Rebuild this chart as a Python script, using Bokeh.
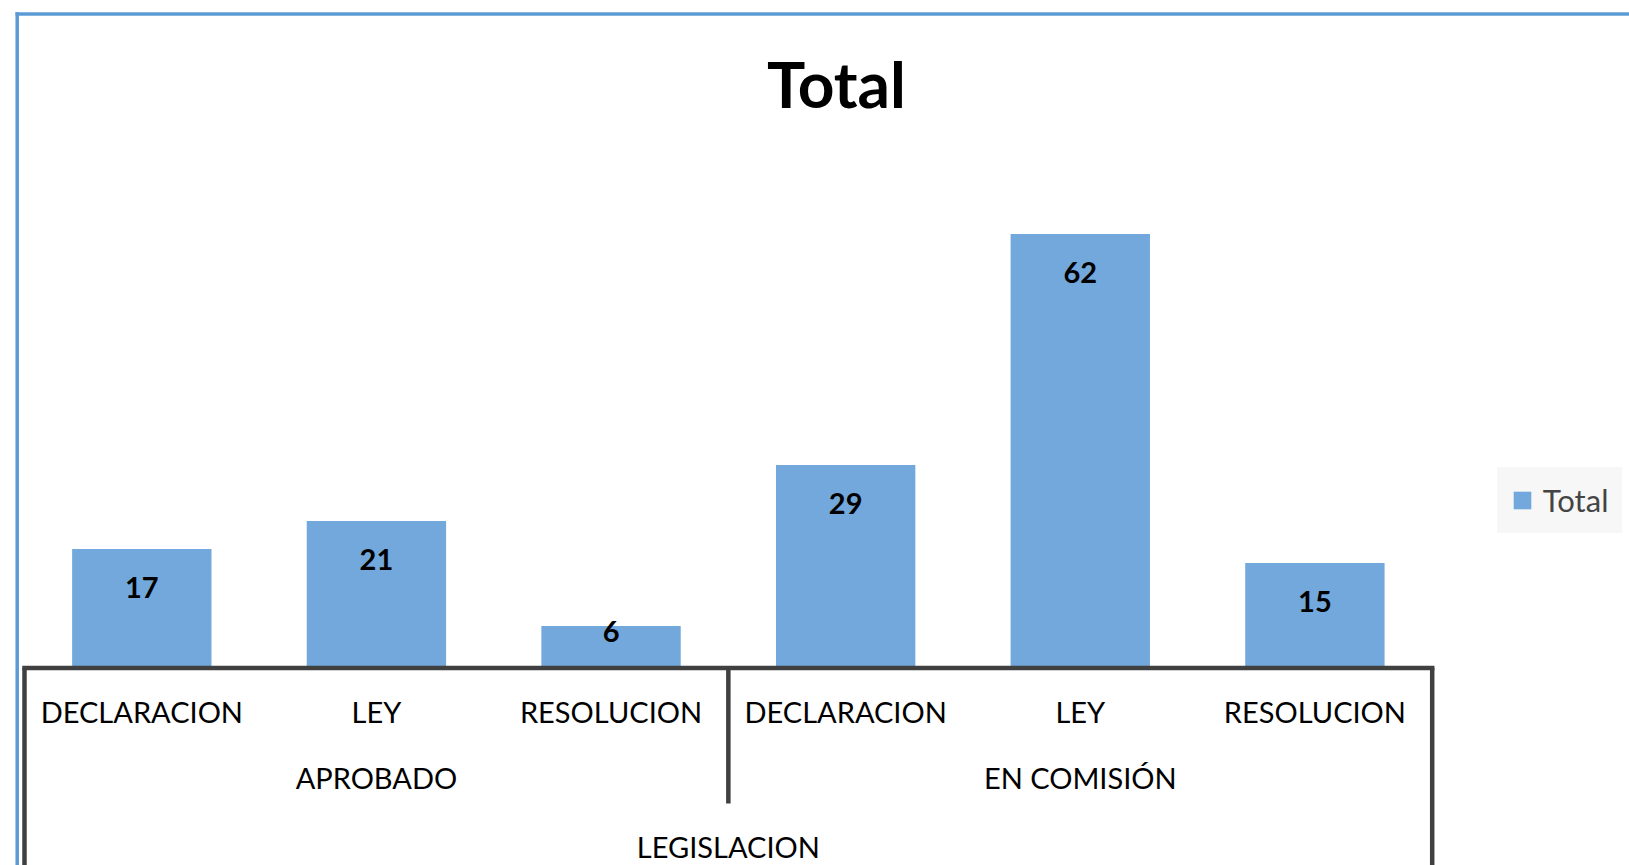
from bokeh.plotting import figure
from bokeh.models import Range1d, Legend, LegendItem, ColumnDataSource
from bokeh.core.properties import value
from bokeh.embed import file_html
from bokeh.resources import INLINE
import numpy as np

# ---------------- data ----------------
chart_title = "Total"
top_group = "LEGISLACION"
groups = ["APROBADO", "EN COMISIÓN"]
types = ["DECLARACION", "LEY", "RESOLUCION"]
values = [17, 21, 6, 29, 62, 15]
series_name = "Total"

# ---------------- layout constants (page pixels) ----------------
W, H = 1629, 865
BOX_L, BOX_R = 24, 1431.7    # category box edges
BASE_Y = 667.5               # baseline of bars
PX_Y = 7.0                   # pixels per value unit
BASE_FIX = 0.43              # renderer baseline correction (fraction of font size)
FONT = "Lato"
BAR_COLOR = "#72A8DB"
AXIS_COLOR = "#404040"
FRAME_BLUE = "#5B9BD5"
LW = 4.5

n_cat = len(groups) * len(types)
ux = (BOX_R - BOX_L) / n_cat


def X(px):
    return (px - BOX_L) / ux


def Y(py):
    return (BASE_Y - py) / PX_Y


def BL(py, size):
    return Y(py - BASE_FIX * size)


cat_labels = [t for g in groups for t in types]
xpos = np.arange(n_cat) + 0.5

p = figure(width=W, height=H, output_backend="svg", toolbar_location=None,
           x_range=Range1d(X(0), X(W)), y_range=Range1d(Y(H), Y(0)),
           x_axis_location=None, y_axis_location=None, min_border=0,
           background_fill_color="white", border_fill_color="white")
p.outline_line_color = None
p.grid.visible = False

# outer blue frame (cropped chart border)
p.segment(x0=[X(15), X(16.7)], y0=[Y(13.5), Y(11.8)],
          x1=[X(W + 20), X(16.7)], y1=[Y(13.5), Y(H + 20)],
          line_color=FRAME_BLUE, line_width=3.5)

# title
p.text(x=[X(836)], y=[BL(110.5, 64)], text=[chart_title], text_font=value(FONT),
       text_font_style="bold", text_font_size="64px", text_align="center",
       text_baseline="alphabetic", text_color="black")

# bars
src = ColumnDataSource(dict(x=xpos, top=values, label=[str(v) for v in values],
                            yoff=[min(50.5, v * PX_Y - 24) - BASE_FIX * 29 for v in values]))
bars = p.vbar(x="x", top="top", bottom=0, width=0.594, source=src,
              fill_color=BAR_COLOR, line_color=None)

# data labels
p.text(x="x", y="top", text="label", y_offset="yoff", source=src,
       text_font=value(FONT), text_font_style="bold", text_font_size="29px",
       text_align="center", text_baseline="alphabetic", text_color="black")

# category box lines
bottom = Y(H + 20)
n_types = len(types)
sep_x = [i * n_types for i in range(1, len(groups))]
half = (LW / 2) / ux
p.segment(x0=[-half], y0=[0], x1=[n_cat + half], y1=[0], line_color=AXIS_COLOR, line_width=LW)
p.segment(x0=[0, n_cat] + sep_x, y0=[0] * (2 + len(sep_x)),
          x1=[0, n_cat] + sep_x, y1=[bottom, bottom] + [Y(803)] * len(sep_x),
          line_color=AXIS_COLOR, line_width=LW)

# category labels (three levels)
p.text(x=xpos, y=[BL(723.5, 29)] * n_cat, text=cat_labels, text_font=value(FONT),
       text_font_size="29px", text_align="center", text_baseline="alphabetic",
       text_color="black")
gx = [i * n_types + n_types / 2 for i in range(len(groups))]
p.text(x=gx, y=[BL(789.5, 29)] * len(groups), text=groups, text_font=value(FONT),
       text_font_size="29px", text_align="center", text_baseline="alphabetic",
       text_color="black")
p.text(x=[n_cat / 2], y=[BL(858.5, 29)], text=[top_group], text_font=value(FONT),
       text_font_size="29px", text_align="center", text_baseline="alphabetic",
       text_color="black")

# legend
legend = Legend(items=[LegendItem(label=series_name, renderers=[bars])],
                location=(1496.8, H - 533), padding=13, margin=0,
                glyph_width=22, glyph_height=22, label_standoff=10,
                label_text_font=FONT, label_text_font_size="31px",
                background_fill_color="#F7F7F7", background_fill_alpha=1,
                border_line_color="#F7F7F7", border_line_width=1)
p.add_layout(legend)

open("out.html", "w").write(file_html(p, INLINE))
